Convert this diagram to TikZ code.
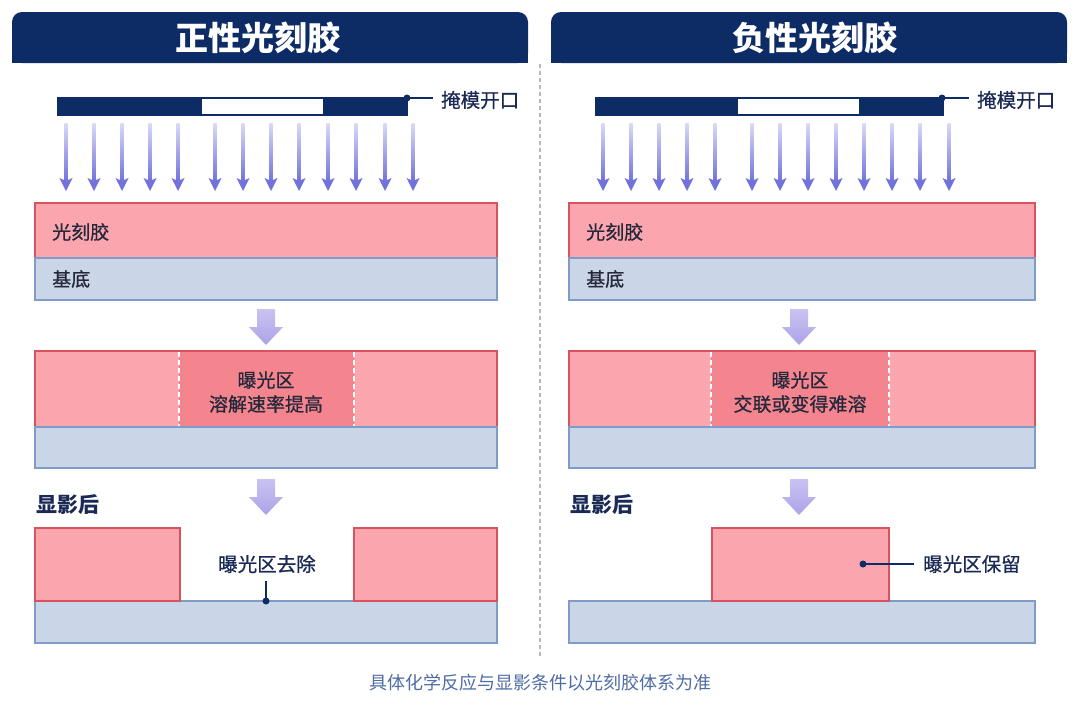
\documentclass[tikz,border=0pt]{standalone}
\usepackage{fontspec}
\setmainfont{Noto Sans CJK SC}
\newfontfamily\medfont[FakeBold=0.7]{Noto Sans CJK SC}
\usetikzlibrary{arrows.meta}
\definecolor{navy}{HTML}{0D2C66}
\definecolor{navytxt}{HTML}{1B2A55}
\definecolor{resist}{HTML}{FBA5AE}
\definecolor{resistdk}{HTML}{F4858F}
\definecolor{resistline}{HTML}{D9535F}
\definecolor{sub}{HTML}{CAD6E8}
\definecolor{subline}{HTML}{7F9BC8}
\definecolor{raytop}{HTML}{DADAF8}
\definecolor{raybot}{HTML}{7272DC}
\definecolor{txt}{HTML}{25283A}
\definecolor{capc}{HTML}{4F6DA5}
\definecolor{batop}{HTML}{C9C3F2}
\definecolor{babot}{HTML}{ABA3E8}
\definecolor{divc}{HTML}{B5B8C0}
\begin{document}
\begin{tikzpicture}[x=1pt,y=-1pt,
  resistL/.style={fill=resist,draw=resistline,line width=1.1pt},
  expL/.style={fill=resistdk},
  subL/.style={fill=sub,draw=subline,line width=1.1pt},
  lbl/.style={font=\fontsize{19}{22}\medfont,text=txt,inner sep=0pt},
  callout/.style={font=\fontsize{19.5}{22}\medfont,text=navytxt,inner sep=0pt},
  devlbl/.style={font=\fontsize{21}{24}\selectfont\bfseries,text=navytxt,inner sep=0pt},
  titlelbl/.style={font=\fontsize{33}{38}\selectfont\bfseries,text=white,inner sep=0pt},
  leader/.style={draw=navy,line width=1.3pt},
  dotc/.style={fill=navy,circle,minimum size=7pt,inner sep=0pt},
  exline/.style={draw=white,line width=1.5pt,dash pattern=on 5pt off 3pt},
]
\useasboundingbox (0,0) rectangle (1080,720);
\fill[white] (0,0) rectangle (1080,720);

% headers
\fill[navy,rounded corners=10pt] (12,12) rectangle (528,63);
\fill[navy] (12,40) rectangle (528,63);
\node[titlelbl] (tL) at (258,38) {正性光刻胶};
\fill[navy,rounded corners=10pt] (551,12) rectangle (1067,63);
\fill[navy] (551,40) rectangle (1067,63);
\node[titlelbl] (tR) at (815,38) {负性光刻胶};

% divider
\draw[divc,line width=1.2pt,dash pattern=on 4pt off 3pt] (540,64) -- (540,656);

% masks
\fill[navy] (57,97) rectangle (408,116);
\fill[white] (202,99) rectangle (323,114);
\node[dotc] (mdL) at (407,98) {};
\node[callout,anchor=west] (mlL) at (441,100) {掩模开口};
\draw[leader] (mdL.center) -- (433,98);

\fill[navy] (595,97) rectangle (944,116);
\fill[white] (738,99) rectangle (859,114);
\node[dotc] (mdR) at (942,98) {};
\node[callout,anchor=west] (mlR) at (977,100) {掩模开口};
\draw[leader] (mdR.center) -- (969,98);

% rays
\foreach \x in {66,94,122,150,178,215,243,271,299,328,356,385,413,
                603,631,659,687,715,752,780,808,836,864,892,920,949}{
  \shade[top color=raytop,bottom color=raybot] (\x-1.5,123) rectangle (\x+1.5,181);
  \fill[raybot] (\x,191) -- (\x-6.5,178) -- (\x,181) -- (\x+6.5,178) -- cycle;
}

% stage 1
\draw[resistL] (35,203) rectangle (497,258);
\draw[subL] (35,258) rectangle (497,300);
\node[lbl,anchor=west] (r1L) at (52,232) {光刻胶};
\node[lbl,anchor=west] (s1L) at (52,279) {基底};
\draw[resistL] (569,203) rectangle (1035,258);
\draw[subL] (569,258) rectangle (1035,300);
\node[lbl,anchor=west] (r1R) at (586,232) {光刻胶};
\node[lbl,anchor=west] (s1R) at (586,279) {基底};

% block arrows
\foreach \cx/\ty in {266/309,266/479,799/309,799/479}{
  \shade[top color=batop,bottom color=babot]
    (\cx-9,\ty) -- (\cx+9,\ty) -- (\cx+9,\ty+18) -- (\cx+17,\ty+18) -- (\cx,\ty+36)
    -- (\cx-17,\ty+18) -- (\cx-9,\ty+18) -- cycle;
}

% stage 2 left
\draw[resistL] (35,351) rectangle (497,427);
\fill[expL] (179,352) rectangle (354,426);
\draw[exline] (179,352) -- (179,426);
\draw[exline] (354,352) -- (354,426);
\draw[subL] (35,427) rectangle (497,468);
\node[lbl] (e1L) at (266,380) {曝光区};
\node[lbl] (e2L) at (266,404) {溶解速率提高};

% stage 2 right
\draw[resistL] (569,351) rectangle (1035,427);
\fill[expL] (711,352) rectangle (889,426);
\draw[exline] (711,352) -- (711,426);
\draw[exline] (889,352) -- (889,426);
\draw[subL] (569,427) rectangle (1035,468);
\node[lbl] (e1R) at (800,380) {曝光区};
\node[lbl] (e2R) at (800,404) {交联或变得难溶};

% developed labels
\node[devlbl,anchor=west] (dL) at (36,505) {显影后};
\node[devlbl,anchor=west] (dR) at (570,505) {显影后};

% stage 3 left
\draw[subL] (35,601) rectangle (497,643);
\draw[resistL] (35,528) rectangle (180,601);
\draw[resistL] (354,528) rectangle (497,601);
\node[callout] (rmL) at (267,564) {曝光区去除};
\node[dotc] (rdL) at (266,601) {};
\draw[leader] (rdL.center) -- (266,581);

% stage 3 right
\draw[subL] (569,601) rectangle (1035,643);
\draw[resistL] (712,528) rectangle (889,601);
\node[dotc] (kdR) at (863,564) {};
\node[callout,anchor=west] (kpR) at (923,564) {曝光区保留};
\draw[leader] (kdR.center) -- (914,564);

% caption
\node[font=\fontsize{18}{22}\selectfont,text=capc,inner sep=0pt] (cap) at (540,683) {具体化学反应与显影条件以光刻胶体系为准};
\end{tikzpicture}
\end{document}
